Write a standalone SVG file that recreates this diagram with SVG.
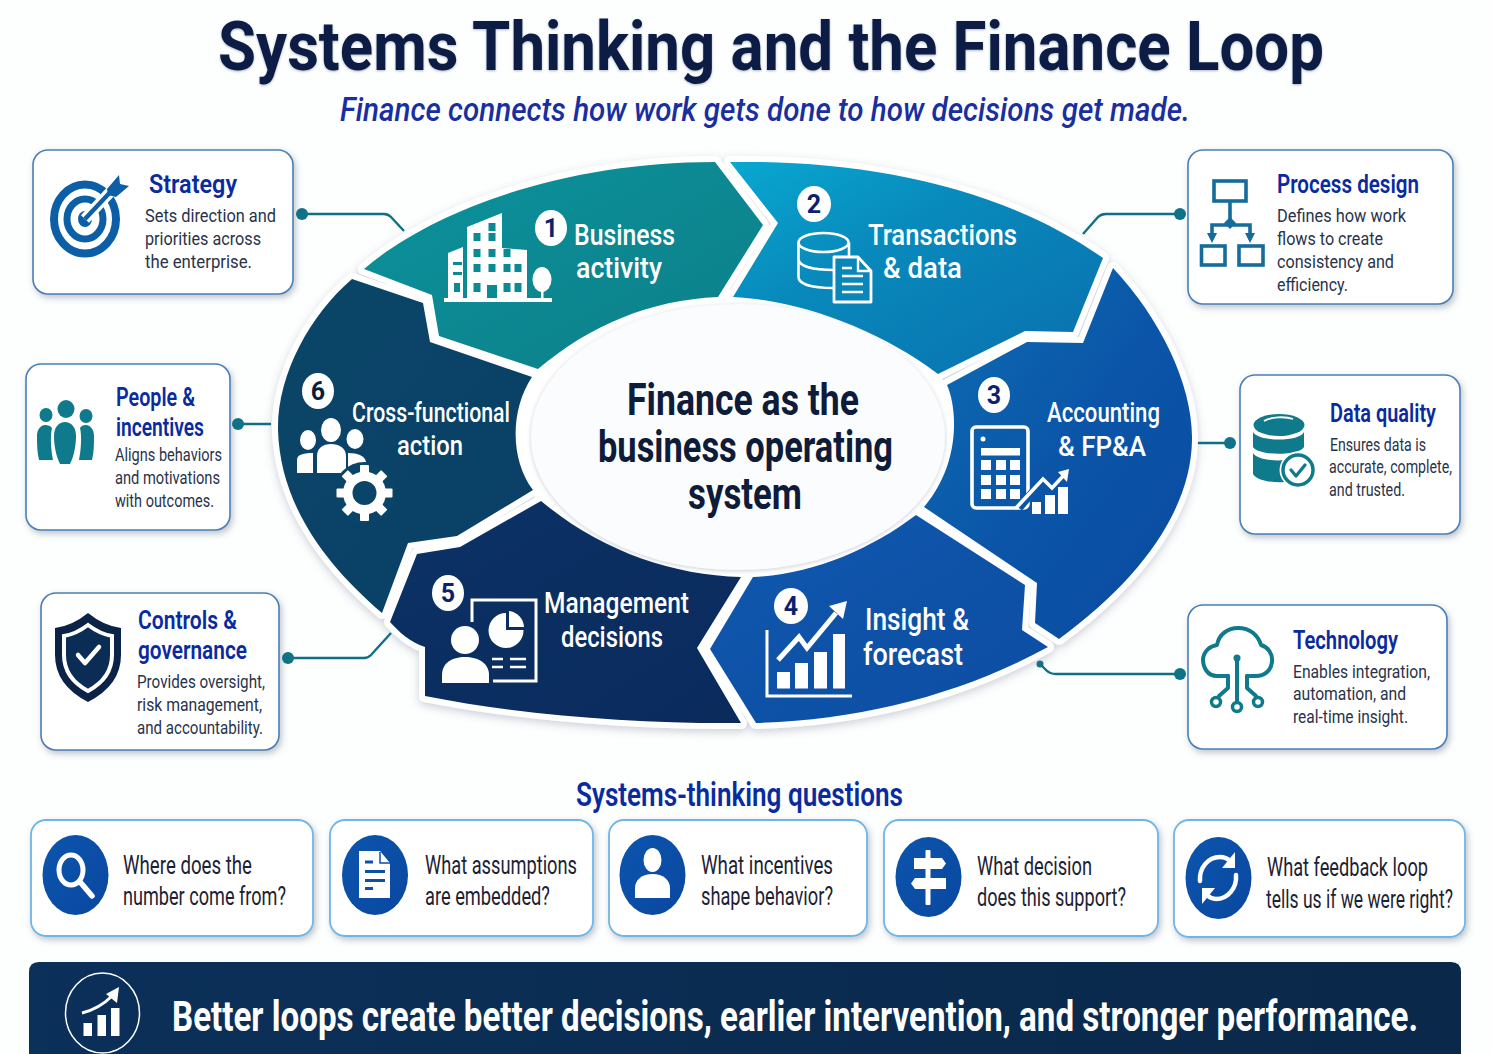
<svg xmlns="http://www.w3.org/2000/svg" width="1492" height="1054" viewBox="0 0 1492 1054">
<defs>
<style>
text{font-family:Roboto,"Liberation Sans",sans-serif;}
.card{fill:#fff;stroke:#4a7fb8;stroke-width:1.6;filter:url(#cs);}
.qc{fill:#fff;stroke:#6db6ea;stroke-width:1.8;filter:url(#cs);}
.h{font-size:26px;font-weight:600;fill:#0a2ba0;}
.b{font-size:17.5px;fill:#28334a;}
.w{font-size:30px;font-weight:500;fill:#fff;}
.q{font-size:25px;fill:#1c2233;}
.n{font-size:25px;font-weight:700;fill:#0d1f6e;text-anchor:middle;}
.c{font-size:44px;font-weight:700;fill:#0e1c3a;}
.lk{fill:none;stroke:#0f6f84;stroke-width:2.4;}
.dot{fill:#0f7288;}
.iw{fill:#fff;}
.sw{fill:none;stroke:#fff;stroke-linecap:round;stroke-linejoin:round;}
.qb{fill:url(#gq);}
.t{fill:#0f7a8c;}
.ts{fill:none;stroke:#0f7a8c;stroke-width:4;stroke-linecap:round;stroke-linejoin:round;}
.ps{fill:none;stroke:#136c9c;stroke-width:3.6;}
</style>
<filter id="cs" x="-10%" y="-10%" width="120%" height="125%"><feDropShadow dx="2" dy="3" stdDeviation="3" flood-color="#4a5a70" flood-opacity=".35"/></filter>
<filter id="hs" x="-5%" y="-5%" width="110%" height="112%"><feDropShadow dx="0" dy="3" stdDeviation="4" flood-color="#5a6a80" flood-opacity=".3"/></filter>
<filter id="ts" x="-5%" y="-20%" width="110%" height="140%"><feDropShadow dx="0" dy="1" stdDeviation="1" flood-color="#0a1f44" flood-opacity=".3"/></filter>
<filter id="is" x="-5%" y="-5%" width="110%" height="110%"><feDropShadow dx="0" dy="1" stdDeviation="2" flood-color="#7a8696" flood-opacity=".4"/></filter>
<linearGradient id="g1" x1="0" y1="0" x2="1" y2="1"><stop offset="0" stop-color="#0b929c"/><stop offset="1" stop-color="#0d7f88"/></linearGradient>
<linearGradient id="g2" x1="0" y1="0" x2="1" y2="1"><stop offset="0" stop-color="#08a8d0"/><stop offset=".4" stop-color="#0889bb"/><stop offset="1" stop-color="#0a6fae"/></linearGradient>
<linearGradient id="g3" x1="0" y1="0" x2="1" y2="1"><stop offset="0" stop-color="#0d70b4"/><stop offset=".5" stop-color="#0b55a8"/><stop offset="1" stop-color="#0a4a9f"/></linearGradient>
<linearGradient id="g4" x1="0" y1="0" x2="1" y2="1"><stop offset="0" stop-color="#1058ae"/><stop offset="1" stop-color="#0c4da2"/></linearGradient>
<linearGradient id="g5" x1="0" y1="0" x2="1" y2="1"><stop offset="0" stop-color="#0c3266"/><stop offset="1" stop-color="#0a2a5c"/></linearGradient>
<linearGradient id="g6" x1="0" y1="0" x2="1" y2="1"><stop offset="0" stop-color="#0a4668"/><stop offset="1" stop-color="#0a3f66"/></linearGradient>
<linearGradient id="gq" x1="0" y1="0" x2="1" y2="1"><stop offset="0" stop-color="#0c55ad"/><stop offset="1" stop-color="#0a47a0"/></linearGradient>
<linearGradient id="gb" x1="0" y1="0" x2="1" y2="0"><stop offset="0" stop-color="#0b3059"/><stop offset="1" stop-color="#0a2849"/></linearGradient>
<path id="s1" d="M364 269C430 212 560 162 715 162L763 225L718 297C650 300 590 325 538 369L439 336L432 295Z"/>
<path id="s2" d="M730 162C860 160 1000 185 1103 258L1073 332L1025 331L938 374C880 330 800 300 733 297L778 223Z"/>
<path id="s3" d="M1113 268C1160 318 1193 385 1192 440C1191 510 1140 580 1059 639L1035 623L1037 583L924 507C960 465 958 410 947 385L1027 342L1083 343Z"/>
<path id="s4" d="M916 515L1025 585L1022 630L1048 647C960 695 860 720 756 723L710 649L753 577C810 575 870 550 916 515Z"/>
<path id="s5" d="M541 501C600 550 670 575 741 577L697 648L741 723C640 724 520 715 425 696L425 647C410 642 400 633 390 622L417 554L460 547Z"/>
<path id="s6" d="M533 490L457 536L408 543L382 613C320 560 280 500 278 430C277 375 310 315 352 279L423 303L430 342L532 377C510 410 510 460 533 490Z"/>
</defs>

<rect width="1492" height="1054" fill="#fdfefe"/>

<g id="title">
<text x="218" y="70" font-size="68" font-weight="700" fill="#0a1f44" textLength="1106" lengthAdjust="spacingAndGlyphs" filter="url(#ts)">Systems Thinking and the Finance Loop</text>
<text x="340" y="121" font-size="34" font-style="italic" font-weight="500" fill="#1a2ea0" textLength="850" lengthAdjust="spacingAndGlyphs">Finance connects how work gets done to how decisions get made.</text>
</g>

<g id="connectors">
<path class="lk" d="M302 214H384Q388 214 391 217L404 231"/>
<circle class="dot" cx="302" cy="214" r="6"/>
<path class="lk" d="M1180 214H1106Q1101 214 1098 217L1083 234"/>
<circle class="dot" cx="1180" cy="214" r="6"/>
<path class="lk" d="M238 424H271"/>
<circle class="dot" cx="238" cy="424" r="6"/>
<path class="lk" d="M1196 443H1230"/>
<circle class="dot" cx="1230" cy="443" r="6"/>
<path class="lk" d="M288 658H364Q368 658 371 655L391 633"/>
<circle class="dot" cx="288" cy="658" r="6"/>
<path class="lk" d="M1180 674H1056Q1050 674 1046 670L1040 664"/>
<circle class="dot" cx="1180" cy="674" r="6"/>
<circle class="dot" cx="1040" cy="664" r="3.5"/>
</g>

<g id="ring-halo" fill="#fff" stroke="#fff" stroke-width="12" stroke-linejoin="round" filter="url(#hs)">
<use href="#s1"/><use href="#s2"/><use href="#s3"/><use href="#s4"/><use href="#s5"/><use href="#s6"/>
<ellipse cx="738" cy="437" rx="213" ry="140"/>
</g>
<ellipse cx="738" cy="437" rx="222" ry="148" fill="#fff"/>

<g id="step1">
<use href="#s1" fill="url(#g1)"/>
<g class="iw">
<path d="M444 298H552V302H444Z"/>
<path d="M467 227L502 213V248L527 250V298H448V253L463 247V298H467Z"/>
<ellipse cx="542" cy="279.500" rx="9.500" ry="12.500"/><rect x="541" y="288" width="2.500" height="11"/>
</g>
<g fill="#0c8a94">
<rect x="488.500" y="223" width="7" height="8"/>
<rect x="473.500" y="233" width="7" height="8"/><rect x="488.500" y="233" width="7" height="8"/>
<rect x="473.500" y="249" width="7" height="8"/><rect x="488.500" y="249" width="7" height="8"/><rect x="503.500" y="249" width="7" height="8"/>
<rect x="473.500" y="264" width="7" height="8"/><rect x="488.500" y="264" width="7" height="8"/><rect x="503.500" y="264" width="7" height="8"/><rect x="514.500" y="264" width="7" height="8"/>
<rect x="473.500" y="283" width="7" height="9"/><rect x="503.500" y="283" width="7" height="9"/><rect x="514.500" y="283" width="7" height="9"/>
<rect x="453" y="262" width="9" height="3"/><rect x="453" y="272" width="9" height="3"/><rect x="454" y="283" width="6" height="9"/>
<rect x="487" y="285" width="10" height="13"/>
</g>
<ellipse cx="551" cy="228" rx="16" ry="18" fill="#fff"/>
<text class="n" x="551" y="237">1</text>
<text class="w" x="574" y="245" textLength="101" lengthAdjust="spacingAndGlyphs">Business</text>
<text class="w" x="576" y="278" textLength="86" lengthAdjust="spacingAndGlyphs">activity</text>
</g>

<g id="step2">
<use href="#s2" fill="url(#g2)"/>
<g fill="none" stroke="#fff" stroke-width="2.600">
<ellipse cx="823.500" cy="242.500" rx="25" ry="9.500"/>
<path d="M798.500 242.500V277C798.500 284 812 288 834 288M849 242.500V258M798.500 260C800 266 812 270 834 270"/>
</g>
<path d="M834 257H858L871 271V302H834Z" fill="#0a86b8" stroke="#fff" stroke-width="2.800" stroke-linejoin="round"/>
<path d="M858 257V271H871" fill="none" stroke="#fff" stroke-width="2.400"/>
<path d="M842 268H852M842 276H863M842 284H863M842 292H863" stroke="#fff" stroke-width="2.400"/>
<ellipse cx="814" cy="204" rx="17" ry="18" fill="#fff"/>
<text class="n" x="814" y="213">2</text>
<text class="w" x="868" y="245" textLength="149" lengthAdjust="spacingAndGlyphs">Transactions</text>
<text class="w" x="883" y="278" textLength="79" lengthAdjust="spacingAndGlyphs">&amp; data</text>
</g>

<g id="step3">
<use href="#s3" fill="url(#g3)"/>
<rect x="972" y="427" width="56" height="81" rx="4" fill="none" stroke="#fff" stroke-width="3.600"/>
<circle cx="983" cy="439" r="2.500" fill="#fff"/>
<g class="iw">
<rect x="981" y="448" width="39" height="7.500"/>
<rect x="981" y="460" width="10" height="10"/><rect x="996" y="460" width="10" height="10"/><rect x="1010" y="460" width="10" height="10"/>
<rect x="981" y="475" width="10" height="10"/><rect x="996" y="475" width="10" height="10"/><rect x="1010" y="475" width="10" height="10"/>
<rect x="981" y="489" width="10" height="10"/><rect x="996" y="489" width="10" height="10"/><rect x="1010" y="489" width="10" height="10"/>
<rect x="1032" y="502" width="9" height="12"/><rect x="1045" y="495" width="10" height="19"/><rect x="1058" y="487" width="10" height="27"/>
</g>
<path d="M1019 508L1043 480L1052 488L1065 474" fill="none" stroke="#0b55a8" stroke-width="8"/>
<path d="M1016 508L1043 479L1052 488L1065 474" fill="none" stroke="#fff" stroke-width="3.600"/>
<path class="iw" d="M1069 469L1067 482L1058 472Z"/>
<ellipse cx="994" cy="395" rx="16" ry="18" fill="#fff"/>
<text class="n" x="994" y="404">3</text>
<text class="w" x="1047" y="422" style="font-size:27px" textLength="113" lengthAdjust="spacingAndGlyphs">Accounting</text>
<text class="w" x="1058" y="456" style="font-size:27px" textLength="88" lengthAdjust="spacingAndGlyphs">&amp; FP&amp;A</text>
</g>

<g id="step4">
<use href="#s4" fill="url(#g4)"/>
<path d="M767 630V696H852" fill="none" stroke="#fff" stroke-width="3"/>
<g class="iw">
<rect x="777" y="672" width="13" height="16.500"/><rect x="795" y="663" width="13" height="25.500"/><rect x="814" y="652" width="13" height="36.500"/><rect x="833" y="634" width="12" height="54.500"/>
<path d="M847 601L843 619L829 606Z"/>
</g>
<path d="M778 660L799 637L807 648L836 613" fill="none" stroke="#fff" stroke-width="5"/>
<ellipse cx="791" cy="606" rx="17" ry="18" fill="#fff"/>
<text class="n" x="791" y="615">4</text>
<text class="w" x="865" y="630" style="font-size:31px" textLength="104" lengthAdjust="spacingAndGlyphs">Insight &amp;</text>
<text class="w" x="863" y="665" style="font-size:31px" textLength="100" lengthAdjust="spacingAndGlyphs">forecast</text>
</g>

<g id="step5">
<use href="#s5" fill="url(#g5)"/>
<path d="M472 622V600H536V681H493" fill="none" stroke="#fff" stroke-width="3"/>
<path d="M506 630V613A17.500 17.500 0 1 0 523.500 630Z" fill="#fff"/>
<path d="M509 611A17 17 0 0 1 524 627H509Z" fill="#fff"/>
<path d="M492 659H503M510 659H526M492 667H503M510 667H526" stroke="#fff" stroke-width="2.400"/>
<circle cx="465" cy="640" r="14" fill="#fff"/>
<path d="M442 683V675C442 663 452 657 465 657C478 657 489 663 489 675V683Z" fill="#fff"/>
<ellipse cx="448" cy="593" rx="16" ry="18" fill="#fff"/>
<text class="n" x="448" y="602">5</text>
<text class="w" x="544" y="613" textLength="145" lengthAdjust="spacingAndGlyphs">Management</text>
<text class="w" x="561" y="647" textLength="102" lengthAdjust="spacingAndGlyphs">decisions</text>
</g>

<g id="step6">
<use href="#s6" fill="url(#g6)"/>
<g class="iw">
<ellipse cx="331" cy="430" rx="10" ry="12"/><ellipse cx="308" cy="440" rx="8" ry="10"/><ellipse cx="355" cy="439" rx="8.500" ry="10"/>
<path d="M317 473V456C317 448 323 444 331 444C339 444 346 448 346 456V473Z"/>
<path d="M297 473V460C297 455 302 453 313 453V473Z"/>
<path d="M348 453C358 453 365 456 366 462V470H348Z"/>
</g>
<circle cx="364.500" cy="493" r="31" fill="#0a4468"/>
<g class="iw">
<circle cx="364.500" cy="493" r="21.500"/>
<rect x="360" y="465" width="9" height="56" rx="1"/>
<rect x="360" y="465" width="9" height="56" rx="1" transform="rotate(45 364.500 493)"/>
<rect x="360" y="465" width="9" height="56" rx="1" transform="rotate(90 364.500 493)"/>
<rect x="360" y="465" width="9" height="56" rx="1" transform="rotate(135 364.500 493)"/>
</g>
<circle cx="364.500" cy="493" r="12" fill="#0a4468"/>
<ellipse cx="318" cy="391" rx="16" ry="18" fill="#fff"/>
<text class="n" x="318" y="400" style="fill:#0e1c3a">6</text>
<text class="w" x="352" y="422" style="font-size:28px" textLength="158" lengthAdjust="spacingAndGlyphs">Cross-functional</text>
<text class="w" x="397" y="455" style="font-size:28px" textLength="66" lengthAdjust="spacingAndGlyphs">action</text>
</g>

<g id="center">
<ellipse cx="738" cy="437" rx="207" ry="133" fill="#fbfcfd" filter="url(#is)"/>
<text class="c" x="627" y="415" textLength="232" lengthAdjust="spacingAndGlyphs">Finance as the</text>
<text class="c" x="598" y="462" textLength="295" lengthAdjust="spacingAndGlyphs">business operating</text>
<text class="c" x="688" y="509" textLength="114" lengthAdjust="spacingAndGlyphs">system</text>
</g>

<g id="card-strategy">
<rect class="card" x="33" y="150" width="260" height="144" rx="15"/>
<g fill="none" stroke="#0c5fa6">
<ellipse cx="85" cy="219" rx="31" ry="34.500" stroke-width="8"/>
<ellipse cx="85" cy="219" rx="18" ry="20" stroke-width="7"/>
</g>
<ellipse cx="85" cy="219" rx="7" ry="8" fill="#0c5fa6"/>
<path d="M85 219L114 188" stroke="#fff" stroke-width="11"/>
<path d="M85 219L116 186" stroke="#0c5fa6" stroke-width="4.500"/>
<path d="M107 189L119 175L120 184L129 186L116 197L108 195Z" fill="#0c5fa6"/>
<text class="h" x="149" y="193" textLength="88" lengthAdjust="spacingAndGlyphs">Strategy</text>
<text class="b" x="145" y="222" textLength="131" lengthAdjust="spacingAndGlyphs">Sets direction and</text>
<text class="b" x="145" y="245" textLength="116" lengthAdjust="spacingAndGlyphs">priorities across</text>
<text class="b" x="145" y="268" textLength="107" lengthAdjust="spacingAndGlyphs">the enterprise.</text>
</g>

<g id="card-people">
<rect class="card" x="26" y="364" width="204" height="166" rx="15"/>
<g class="t">
<ellipse cx="66" cy="409" rx="8.500" ry="9"/><ellipse cx="46" cy="415" rx="6.500" ry="7"/><ellipse cx="86" cy="416" rx="6.500" ry="7"/>
<path d="M54 436C54 427 59 422 65 422C71 422 76 427 76 436C76 448 73 458 70 464H60C57 458 54 448 54 436Z"/>
<path d="M37 436C37 429 41 425 45 425C48 425 51 426 52 428C50 436 51 450 53 460H39C37 452 37 444 37 436Z"/>
<path d="M94 436C94 429 90 425 86 425C83 425 81 426 80 428C82 436 81 450 79 460H92C94 452 94 444 94 436Z"/>
</g>
<text class="h" x="116" y="406" textLength="79" lengthAdjust="spacingAndGlyphs">People &amp;</text>
<text class="h" x="116" y="436" textLength="88" lengthAdjust="spacingAndGlyphs">incentives</text>
<text class="b" x="115" y="461" textLength="107" lengthAdjust="spacingAndGlyphs">Aligns behaviors</text>
<text class="b" x="115" y="484" textLength="105" lengthAdjust="spacingAndGlyphs">and motivations</text>
<text class="b" x="115" y="507" textLength="99" lengthAdjust="spacingAndGlyphs">with outcomes.</text>
</g>

<g id="card-controls">
<rect class="card" x="41" y="593" width="238" height="157" rx="15"/>
<path d="M88 613Q104 626 121 628V655Q121 685 88 702Q55 685 55 655V628Q72 626 88 613Z" fill="#0a2347"/>
<path d="M88 625Q100 634 112 636V655Q112 678 88 691Q64 678 64 655V636Q76 634 88 625Z" fill="#0b2c55" stroke="#fff" stroke-width="4"/>
<path d="M78 655L85 663L99 647" fill="none" stroke="#fff" stroke-width="4.500" stroke-linecap="round" stroke-linejoin="round"/>
<text class="h" x="138" y="629" textLength="99" lengthAdjust="spacingAndGlyphs">Controls &amp;</text>
<text class="h" x="138" y="659" textLength="109" lengthAdjust="spacingAndGlyphs">governance</text>
<text class="b" x="137" y="688" textLength="128" lengthAdjust="spacingAndGlyphs">Provides oversight,</text>
<text class="b" x="137" y="711" textLength="125" lengthAdjust="spacingAndGlyphs">risk management,</text>
<text class="b" x="137" y="734" textLength="126" lengthAdjust="spacingAndGlyphs">and accountability.</text>
</g>

<g id="card-process">
<rect class="card" x="1188" y="150" width="265" height="154" rx="15"/>
<rect class="ps" x="1214" y="181" width="32" height="20"/>
<rect class="ps" x="1201.500" y="246" width="23.500" height="19"/>
<rect class="ps" x="1239" y="246" width="24" height="19"/>
<path class="ps" d="M1230 202V223M1212 234V225H1250V234"/>
<path d="M1230 217L1236 223L1230 229L1224 223Z" fill="#136c9c"/>
<path d="M1207 233H1217L1212 243ZM1245 233H1255L1250 243Z" fill="#136c9c"/>
<text class="h" x="1277" y="193" textLength="142" lengthAdjust="spacingAndGlyphs">Process design</text>
<text class="b" x="1277" y="222" textLength="129" lengthAdjust="spacingAndGlyphs">Defines how work</text>
<text class="b" x="1277" y="245" textLength="106" lengthAdjust="spacingAndGlyphs">flows to create</text>
<text class="b" x="1277" y="268" textLength="117" lengthAdjust="spacingAndGlyphs">consistency and</text>
<text class="b" x="1277" y="291" textLength="71" lengthAdjust="spacingAndGlyphs">efficiency.</text>
</g>

<g id="card-data">
<rect class="card" x="1240" y="375" width="220" height="159" rx="15"/>
<g class="t">
<ellipse cx="1279" cy="425" rx="25.500" ry="11"/>
<path d="M1253 432C1258 442 1300 442 1304 432V447C1300 456 1258 456 1253 447Z"/>
<path d="M1253 453C1258 462 1290 463 1304 455V470C1298 474 1290 478 1285 482C1270 483 1256 480 1253 474Z"/>
</g>
<path d="M1264 421C1270 417 1285 416 1293 419" fill="none" stroke="#fff" stroke-width="1.800"/>
<circle cx="1298" cy="470" r="18.500" fill="#fff"/>
<circle cx="1298" cy="470" r="15" fill="#fff" stroke="#0f7a8c" stroke-width="3.500"/>
<path d="M1291 470L1296 476L1305 465" fill="none" stroke="#0f7a8c" stroke-width="3.200" stroke-linecap="round" stroke-linejoin="round"/>
<text class="h" x="1330" y="422" textLength="106" lengthAdjust="spacingAndGlyphs">Data quality</text>
<text class="b" x="1330" y="451" textLength="96" lengthAdjust="spacingAndGlyphs">Ensures data is</text>
<text class="b" x="1329" y="473" textLength="123" lengthAdjust="spacingAndGlyphs">accurate, complete,</text>
<text class="b" x="1329" y="496" textLength="76" lengthAdjust="spacingAndGlyphs">and trusted.</text>
</g>

<g id="card-technology">
<rect class="card" x="1188" y="605" width="259" height="144" rx="15"/>
<path class="ts" d="M1228 676H1217C1207 676 1203 667 1203 659C1204 651 1210 646 1217 645C1219 634 1228 628 1238 628C1250 628 1258 635 1261 645C1268 647 1273 654 1272 662C1271 671 1264 676 1256 676H1247"/>
<path class="ts" d="M1237 658V702M1228 676V688L1219 696M1247 676V688L1256 696"/>
<circle cx="1237" cy="658" r="3.500" class="t"/>
<g fill="#fff" stroke="#0f7a8c" stroke-width="3.500">
<circle cx="1237" cy="707" r="4.500"/><circle cx="1216" cy="702" r="4.500"/><circle cx="1258" cy="702" r="4.500"/>
</g>
<text class="h" x="1293" y="649" textLength="105" lengthAdjust="spacingAndGlyphs">Technology</text>
<text class="b" x="1293" y="678" textLength="137" lengthAdjust="spacingAndGlyphs">Enables integration,</text>
<text class="b" x="1293" y="700" textLength="113" lengthAdjust="spacingAndGlyphs">automation, and</text>
<text class="b" x="1293" y="723" textLength="115" lengthAdjust="spacingAndGlyphs">real-time insight.</text>
</g>

<text x="576" y="806" font-size="33" font-weight="600" fill="#0a2ba0" textLength="327" lengthAdjust="spacingAndGlyphs">Systems-thinking questions</text>

<g id="q1">
<rect class="qc" x="31" y="820" width="282" height="116" rx="15"/>
<ellipse class="qb" cx="75.500" cy="875" rx="33" ry="40"/>
<ellipse cx="71" cy="870" rx="12" ry="15" fill="none" stroke="#fff" stroke-width="5"/>
<path class="sw" stroke-width="5.500" d="M81 883L92 896"/>
<text class="q" x="123" y="874" textLength="129" lengthAdjust="spacingAndGlyphs">Where does the</text>
<text class="q" x="123" y="905" textLength="163" lengthAdjust="spacingAndGlyphs">number come from?</text>
</g>

<g id="q2">
<rect class="qc" x="330" y="820" width="263" height="116" rx="15"/>
<ellipse class="qb" cx="375" cy="875" rx="33" ry="40"/>
<path class="iw" d="M359 851H380L390 863V898H359Z"/>
<path d="M380 852V863H390" fill="none" stroke="#0c50a8" stroke-width="1.500"/>
<path d="M365 862H373M365 871.500H385M365 880.500H385M365 888.500H373" stroke="#0c50a8" stroke-width="3"/>
<text class="q" x="425" y="874" textLength="152" lengthAdjust="spacingAndGlyphs">What assumptions</text>
<text class="q" x="425" y="905" textLength="125" lengthAdjust="spacingAndGlyphs">are embedded?</text>
</g>

<g id="q3">
<rect class="qc" x="609" y="820" width="258" height="116" rx="15"/>
<ellipse class="qb" cx="652.500" cy="875" rx="33" ry="40"/>
<ellipse class="iw" cx="652.500" cy="860" rx="9" ry="12"/>
<path class="iw" d="M635 898V888C635 880 642 874 652.500 874C663 874 670 880 670 888V898Z"/>
<text class="q" x="701" y="874" textLength="132" lengthAdjust="spacingAndGlyphs">What incentives</text>
<text class="q" x="701" y="905" textLength="132" lengthAdjust="spacingAndGlyphs">shape behavior?</text>
</g>

<g id="q4">
<rect class="qc" x="884" y="820" width="274" height="116" rx="15"/>
<ellipse class="qb" cx="928.500" cy="877" rx="33" ry="40"/>
<rect class="iw" x="925.500" y="850" width="5" height="55" rx="1"/>
<path class="iw" d="M914 858H942L946 863.500L942 869H914ZM915 878H946V889H915L911 883.500Z"/>
<text class="q" x="977" y="875" textLength="115" lengthAdjust="spacingAndGlyphs">What decision</text>
<text class="q" x="977" y="906" textLength="149" lengthAdjust="spacingAndGlyphs">does this support?</text>
</g>

<g id="q5">
<rect class="qc" x="1174" y="820" width="291" height="117" rx="15"/>
<ellipse class="qb" cx="1218.500" cy="878" rx="33" ry="41"/>
<path class="sw" stroke-width="4.500" d="M1200 881C1199 868 1208 857 1220 857C1224 857 1228 859 1230 861M1236 875C1237 888 1228 899 1216 899C1212 899 1209 897 1207 895"/>
<path class="iw" d="M1235 852V868H1222ZM1202 904V888H1215Z"/>
<text class="q" x="1267" y="876" textLength="161" lengthAdjust="spacingAndGlyphs">What feedback loop</text>
<text class="q" transform="translate(1266 908) scale(.75 1)" textLength="249.300" lengthAdjust="spacingAndGlyphs">tells us if we were right?</text>
</g>

<g id="banner">
<path d="M39 962H1451Q1461 962 1461 972V1054H29V972Q29 962 39 962Z" fill="url(#gb)"/>
<ellipse cx="102.500" cy="1013" rx="37" ry="40" fill="none" stroke="#fff" stroke-width="1.500"/>
<g class="iw">
<rect x="83.500" y="1023" width="8.500" height="13"/><rect x="97.500" y="1015" width="8.500" height="21"/><rect x="111" y="1008" width="8.500" height="28"/>
<path d="M119 987L117 1003L106 994Z"/>
</g>
<path d="M82 1013C94 1010 104 1004 112 996" fill="none" stroke="#fff" stroke-width="3"/>
<text transform="translate(172 1031) scale(.7 1)" font-size="42" font-weight="700" fill="#fff" textLength="1780" lengthAdjust="spacingAndGlyphs">Better loops create better decisions, earlier intervention, and stronger performance.</text>
</g>
</svg>
